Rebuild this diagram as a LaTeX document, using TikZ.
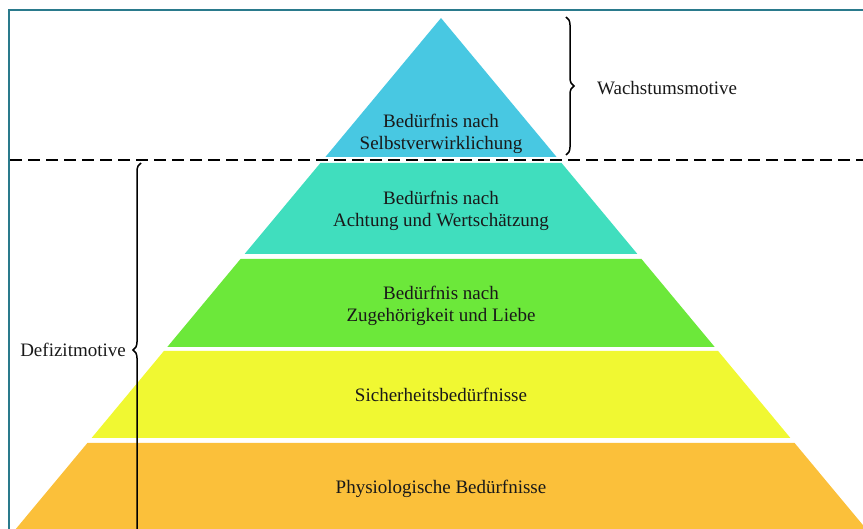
\documentclass[tikz,border=0pt]{standalone}
\usepackage{fontspec}
\setmainfont{Liberation Serif}
\usepackage{tikz}
\usetikzlibrary{decorations.pathreplacing}

\definecolor{framecol}{RGB}{42,122,140}
\definecolor{selbst}{RGB}{72,200,226}
\definecolor{achtung}{RGB}{64,222,190}
\definecolor{liebe}{RGB}{108,232,58}
\definecolor{sicher}{RGB}{240,248,50}
\definecolor{physio}{RGB}{251,192,58}

\begin{document}
\begin{tikzpicture}[x=1pt,y=-1pt,
		label/.style={font=\fontsize{19}{22}\selectfont, text=black!90, align=center, inner sep=0pt},
		brace/.style={decorate, decoration={brace, amplitude=8pt}, line width=1.5pt}]
			\useasboundingbox (0,0) rectangle (863,529);

			% layers of the pyramid
			\fill[selbst] (441,18) -- (556.6,157) -- (325.4,157) -- cycle;
			\fill[achtung] (320.4,163) -- (561.6,163) -- (637.4,254) -- (244.6,254) -- cycle;
			\fill[liebe] (240.5,259) -- (641.5,259) -- (714.7,347) -- (167.3,347) -- cycle;
			\fill[sicher] (163.9,351) -- (718.1,351) -- (790.4,438) -- (91.6,438) -- cycle;
			\fill[physio] (87.4,443) -- (794.6,443) -- (866.2,529) -- (15.8,529) -- cycle;

			% frame and separation line
			\draw[framecol, line width=2.5pt] (9,529) -- (9,10) -- (863,10);
			\draw[line width=2.2pt, dash pattern=on 12pt off 6pt] (10,160) -- (863,160);

			\node[label] (selbst) at (441,134) {Bedürfnis nach\\Selbstverwirklichung};
			\node[label] (achtung) at (441,211) {Bedürfnis nach\\Achtung und Wertschätzung};
			\node[label] (liebe) at (441,306) {Bedürfnis nach\\Zugehörigkeit und Liebe};
			\node[label] (sicher) at (441,395) {Sicherheitsbedürfnisse};
			\node[label] (physio) at (441,489) {Physiologische Bedürfnisse};

			\coordinate (wtop) at (566,17);
			\coordinate (wbot) at (566,155);
			\coordinate (dtop) at (141,163);
			\coordinate (dbot) at (141,537);
			\node[label, anchor=west] (wachstum) at (597,88) {Wachstumsmotive};
			\node[label, anchor=east] (defizit) at (126,350) {Defizitmotive};

			\draw[brace] (wtop) -- (wbot);
			\draw[brace] (dbot) -- (dtop);
		\end{tikzpicture}
\end{document}
